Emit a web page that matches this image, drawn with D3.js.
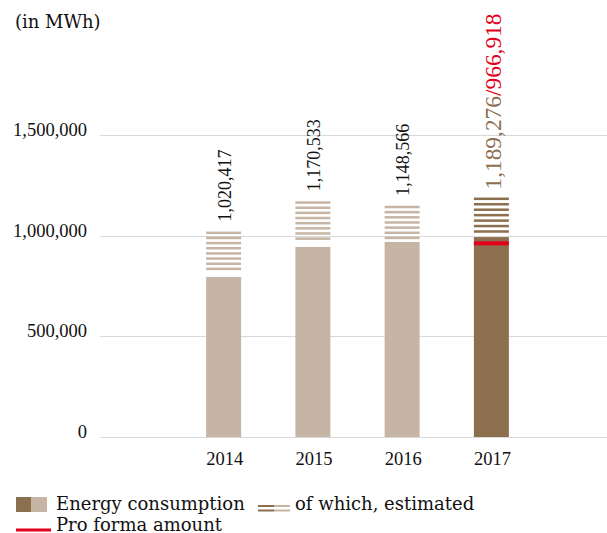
<!DOCTYPE html>
<html><head><meta charset="utf-8">
<script src="https://cdn.jsdelivr.net/npm/d3@7"></script>
<style>body{margin:0;background:#fff}svg{display:block}</style>
</head><body>
<svg id="c" width="607" height="533"></svg>
<script>
const years = ["2014", "2015", "2016", "2017"];
const totals = [1020417, 1170533, 1148566, 1189276];
const measured = [795000, 944000, 969000, 993000];
const proForma = [null, null, null, 966918];
const totalLabels = ["1,020,417", "1,170,533", "1,148,566", "1,189,276"];
const proFormaLabel = "/966,918";
const yTicks = [0, 500000, 1000000, 1500000];
const yTickLabels = ["0", "500,000", "1,000,000", "1,500,000"];

const LIGHT = "#c6b5a4", DARK = "#8c6f4f", RED = "#e2001a", GRID = "#d9d9d9", INK = "#111";
const NUM = "'Liberation Serif', serif", WORD = "'DejaVu Serif', serif";

const svg = d3.select("#c");
const y = d3.scaleLinear().domain([0, 1500000]).range([437, 135]);
const x = d3.scaleBand().domain(years).range([179, 536]).paddingInner(0.608).paddingOuter(0.304);

svg.append("text").attr("x", 15).attr("y", 28).attr("font-family", WORD).attr("font-size", 18)
  .attr("fill", INK).text("(in MWh)");

const g = svg.append("g");
g.selectAll("line.grid").data(yTicks).join("line").attr("class", "grid")
  .attr("x1", 100).attr("x2", 607).attr("y1", d => Math.round(y(d)) + 0.5).attr("y2", d => Math.round(y(d)) + 0.5)
  .attr("stroke", GRID).attr("stroke-width", 1);
g.selectAll("text.yt").data(yTicks).join("text").attr("class", "yt")
  .attr("x", 87).attr("y", d => y(d) + 1).attr("text-anchor", "end")
  .attr("font-family", NUM).attr("font-size", 18.5).attr("fill", INK)
  .text((d, i) => yTickLabels[i]);

const data = years.map((yr, i) => ({yr, total: totals[i], meas: measured[i], pf: proForma[i], i}));
const bars = g.selectAll("g.bar").data(data).join("g").attr("class", "bar");
bars.append("rect")
  .attr("x", d => x(d.yr)).attr("width", x.bandwidth())
  .attr("y", d => y(d.meas)).attr("height", d => y(0) - y(d.meas))
  .attr("fill", d => d.i === 3 ? DARK : LIGHT);
bars.each(function(d) {
  const top = y(d.total), bot = y(d.meas);
  const period = d.i === 3 ? 5.45 : 5.15, th = 2.5;
  const n = Math.floor((bot - top) / period);
  d3.select(this).selectAll("rect.st").data(d3.range(n)).join("rect").attr("class", "st")
    .attr("x", x(d.yr)).attr("width", x.bandwidth())
    .attr("y", k => top + k * period).attr("height", th)
    .attr("fill", d.i === 3 ? DARK : LIGHT);
});
bars.filter(d => d.pf != null).append("rect")
  .attr("x", d => x(d.yr)).attr("width", x.bandwidth())
  .attr("y", d => y(d.pf) - 1).attr("height", 4).attr("fill", RED);

// value labels
bars.each(function(d) {
  const cx = x(d.yr) + x.bandwidth() / 2 + 1;
  const by = y(d.total) - (d.i === 3 ? 8 : 10);
  const t = d3.select(this).append("text")
    .attr("transform", `translate(${cx},${by}) rotate(-90)`)
    .attr("dy", "0.35em").attr("font-family", NUM)
    .attr("font-size", d.i === 3 ? 23.4 : 18);
  if (d.i === 3) {
    t.append("tspan").attr("fill", DARK).text(totalLabels[d.i]);
    t.append("tspan").attr("fill", RED).text(proFormaLabel);
  } else {
    t.attr("fill", INK).text(totalLabels[d.i]);
  }
});

g.selectAll("text.xt").data(years).join("text").attr("class", "xt")
  .attr("x", d => x(d) + x.bandwidth() / 2 + 1).attr("y", 465).attr("text-anchor", "middle")
  .attr("font-family", NUM).attr("font-size", 18.5).attr("fill", INK).text(d => d);

// legend
const lg = svg.append("g");
lg.append("rect").attr("x", 16).attr("y", 497).attr("width", 15.5).attr("height", 15).attr("fill", DARK);
lg.append("rect").attr("x", 31.5).attr("y", 497).attr("width", 15.5).attr("height", 15).attr("fill", LIGHT);
lg.append("text").attr("x", 56).attr("y", 510).attr("font-family", WORD).attr("font-size", 18).attr("fill", INK).text("Energy consumption");
[505, 509.5].forEach(yy => {
  lg.append("rect").attr("x", 258).attr("y", yy).attr("width", 16).attr("height", 2).attr("fill", DARK);
  lg.append("rect").attr("x", 274).attr("y", yy).attr("width", 16).attr("height", 2).attr("fill", LIGHT);
});
lg.append("text").attr("x", 295).attr("y", 510).attr("font-family", WORD).attr("font-size", 18).attr("fill", INK).text("of which, estimated");
lg.append("rect").attr("x", 16).attr("y", 528.5).attr("width", 35).attr("height", 3).attr("fill", RED);
lg.append("text").attr("x", 56).attr("y", 530.5).attr("font-family", WORD).attr("font-size", 18).attr("fill", INK).text("Pro forma amount");
</script>
</body></html>
